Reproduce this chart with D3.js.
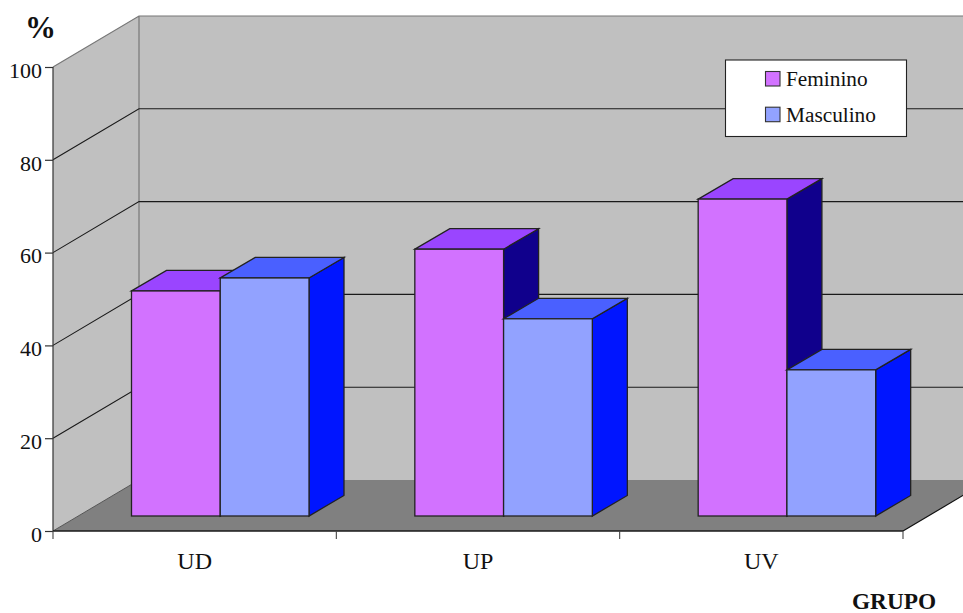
<!DOCTYPE html>
<html><head><meta charset="utf-8">
<script src="https://cdn.jsdelivr.net/npm/d3@7/dist/d3.min.js"></script>
<style>html,body{margin:0;padding:0;background:#fff}svg{display:block}text{font-family:"Liberation Serif",serif;fill:#111}</style>
</head><body><div id="c"></div>
<script>
const categories=["UD","UP","UV"];
const seriesNames=["Feminino","Masculino"];
const feminino=[48.5,57.5,68.3];
const masculino=[51.3,42.5,31.5];
const yTicks=[0,20,40,60,80,100];
const front=["#D272FF","#92A2FF"],topC=["#9A45FF","#4A60FF"],side=["#10008C","#0015FF"];
const W=963,H=613;
const svg=d3.select("#c").append("svg").attr("width",W).attr("height",H);
const x=d3.scaleBand().domain(categories).range([53,903]);
const y=d3.scaleLinear().domain([0,100]).range([531,67]);
const inner=d3.scaleBand().domain([0,1]).range([0,177.5]);
const dep={x:86,y:-51}, barDep={x:35,y:-20.5}, inset={x:78.5,y:-15};
const right=903, pts=a=>a.map(p=>p.join(",")).join(" ");
// walls
svg.append("polygon").attr("points",pts([[53,y(100)],[53+dep.x,y(100)+dep.y],[53+dep.x,y(0)+dep.y],[53,y(0)]])).attr("fill","#C0C0C0");
svg.append("polygon").attr("points",pts([[53+dep.x,y(100)+dep.y],[right+dep.x,y(100)+dep.y],[right+dep.x,y(0)+dep.y],[53+dep.x,y(0)+dep.y]])).attr("fill","#C0C0C0");
svg.append("polygon").attr("points",pts([[53,y(0)],[53+dep.x,y(0)+dep.y],[right+dep.x,y(0)+dep.y],[right,y(0)]])).attr("fill","#808080");
// wall outlines
svg.append("path").attr("d",`M53,${y(100)}L${53+dep.x},${y(100)+dep.y}H${right+dep.x}M${53+dep.x},${y(100)+dep.y}V${y(0)+dep.y}`).attr("fill","none").attr("stroke","#777").attr("stroke-width",1.2);
svg.append("path").attr("d",`M53,${y(0)}L${53+dep.x},${y(0)+dep.y}`).attr("fill","none").attr("stroke","#555").attr("stroke-width",1);
svg.append("path").attr("d",`M${right},${y(0)}L${right+dep.x},${y(0)+dep.y}`).attr("fill","none").attr("stroke","#111").attr("stroke-width",1.2);
// gridlines
yTicks.filter(t=>t>0&&t<100).forEach(t=>{
  svg.append("path").attr("d",`M53,${y(t)}L${53+dep.x},${y(t)+dep.y}H${right+dep.x}`).attr("fill","none").attr("stroke","#1a1a1a").attr("stroke-width",1.1);
});
// bars
categories.forEach((c,i)=>{
  [feminino,masculino].forEach((s,k)=>{
    const x0=x(c)+inset.x+inner(k), x1=x0+inner.bandwidth();
    const b=y(0)+inset.y, t=y(s[i])+inset.y;
    const g=svg.append("g").attr("stroke","#222").attr("stroke-width",1.3).attr("stroke-linejoin","miter");
    g.append("polygon").attr("points",pts([[x1,t],[x1+barDep.x,t+barDep.y],[x1+barDep.x,b+barDep.y],[x1,b]])).attr("fill",side[k]);
    g.append("polygon").attr("points",pts([[x0,t],[x1,t],[x1+barDep.x,t+barDep.y],[x0+barDep.x,t+barDep.y]])).attr("fill",topC[k]);
    g.append("rect").attr("x",x0).attr("y",t).attr("width",x1-x0).attr("height",b-t).attr("fill",front[k]);
  });
});
// axes
const ay=svg.append("g").attr("transform","translate(53,0)").call(d3.axisLeft(y).tickValues(yTicks).tickSize(8).tickPadding(3).tickFormat(d3.format("d")));
ay.selectAll("text").attr("font-size",22).attr("font-family","Liberation Serif").attr("fill","#111").attr("dy","0.47em");
ay.selectAll("line,path").attr("stroke","#333").attr("stroke-width",1.2);
ay.select(".domain").attr("d",`M0,${y(100)}V${y(0)}`);
const ax=svg.append("g").attr("transform",`translate(0,${y(0)})`).call(d3.axisBottom(x).tickSize(0).tickPadding(21));
ax.selectAll("text").attr("font-size",24).attr("font-family","Liberation Serif").attr("fill","#111");
ax.select(".domain").attr("d","M53,0H903").attr("stroke","#1a1a1a").attr("stroke-width",1.6);
[...categories.map(c=>x(c)),x.range()[1]].forEach(p=>{
  ax.append("line").attr("x1",p).attr("x2",p).attr("y1",0).attr("y2",8).attr("stroke","#444").attr("stroke-width",1.1);
});
// titles
svg.append("text").attr("x",25).attr("y",38).attr("font-size",31).attr("font-weight","bold").text("%");
svg.append("text").attr("x",852).attr("y",609).attr("font-size",23.3).attr("font-weight","bold").text("GRUPO");
// legend
const lg=svg.append("g");
lg.append("rect").attr("x",725.5).attr("y",60).attr("width",181).attr("height",76.5).attr("fill","#fff").attr("stroke","#222").attr("stroke-width",1.1);
seriesNames.forEach((n,k)=>{
  const yy=71.5+k*35.7;
  lg.append("rect").attr("x",765.5).attr("y",yy).attr("width",14.5).attr("height",14.5).attr("fill",front[k]).attr("stroke","#333").attr("stroke-width",1.1);
  lg.append("text").attr("x",786).attr("y",yy+14.5).attr("font-size",21.3).text(n);
});
</script></body></html>
